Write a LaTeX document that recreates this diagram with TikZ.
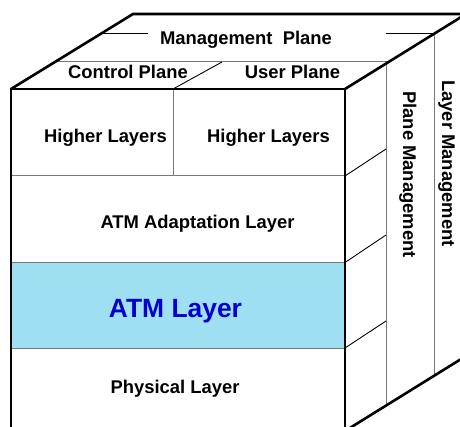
\documentclass[tikz,border=0pt]{standalone}
\usepackage{fontspec}
\setmainfont{Liberation Sans}
\definecolor{atmfill}{RGB}{158,224,242}
\definecolor{atmtext}{RGB}{0,0,204}
\definecolor{thingray}{RGB}{120,120,120}
\tikzset{
  edge/.style={line width=2.6pt, line cap=butt, line join=miter, black},
  divider/.style={line width=1pt, thingray},
  slant/.style={line width=0.9pt, black},
  lbl/.style={font=\bfseries\fontsize{18.4}{22}\selectfont, inner sep=0pt, anchor=base},
  biglbl/.style={font=\bfseries\fontsize{26.4}{30}\selectfont, inner sep=0pt, anchor=base, text=atmtext},
  sidelbl/.style={lbl, rotate=-90}
}
\begin{document}
\begin{tikzpicture}[x=1pt,y=-1pt]
\useasboundingbox (0,0) rectangle (460,427);
\clip (0,0) rectangle (460,427);
% corners
\coordinate (FTL) at (11,89);
\coordinate (FTR) at (345,89);
\coordinate (FBL) at (11,431);
\coordinate (FBR) at (345,431);
\coordinate (BTL) at (133,14);
\coordinate (BTR) at (466,14);
\coordinate (BBR) at (466,356);
% ATM layer fill
\fill[atmfill] (11,262.5) rectangle (345,348);
% front dividers
\draw[divider] (11,176) -- (345,176);
\draw[divider] (11,262.5) -- (345,262.5);
\draw[divider] (11,348) -- (345,348);
\draw[divider] (173,89) -- (173,176);
% right face
\draw[divider] (386,62) -- (386,405);
\draw[divider] (434,33) -- (434,375);
\draw[slant] (345,176) -- (386,149);
\draw[slant] (345,262.5) -- (386,235);
\draw[slant] (345,348) -- (386,321);
% top face
\draw[divider] (55,62) -- (388,62);
\draw[slant] (102,33) -- (148,33);
\draw[slant] (386,33) -- (434,33);
\draw[slant] (173,89) -- (222,62);
% outline
\draw[edge] (FBL) -- (FTL) -- (FTR) -- (FBR) -- cycle;
\draw[edge] (FTL) -- (BTL) -- (BTR);
\draw[edge] (FTR) -- (BTR);
\draw[edge] (FBR) -- (BBR);
% labels
\node[lbl] (mp) at (246,44.5) {Management\ \ Plane};
\node[lbl] (cp) at (128,78.5) {Control Plane};
\node[lbl] (up) at (292.5,78.5) {User Plane};
\node[lbl] (hl1) at (105.5,142.5) {Higher Layers};
\node[lbl] (hl2) at (268.5,142.5) {Higher Layers};
\node[lbl] (aal) at (197.5,228.5) {ATM Adaptation Layer};
\node[biglbl] (atm) at (175.5,317) {ATM Layer};
\node[lbl] (phy) at (175,393.5) {Physical Layer};
\node[sidelbl] (pm) at (403,174.5) {Plane Management};
\node[sidelbl] (lm) at (442,163.5) {Layer Management};
\end{tikzpicture}
\end{document}
